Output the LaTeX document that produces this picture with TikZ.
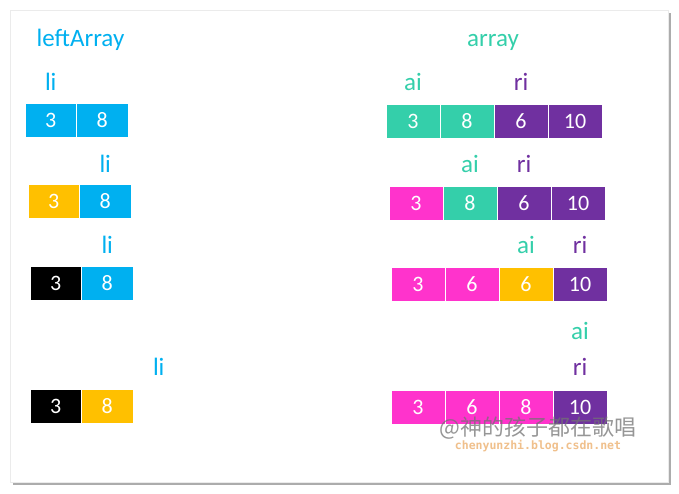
\documentclass[tikz,border=0pt]{standalone}
\usepackage{fontspec}
\setmainfont{Carlito}
\newfontfamily\cjkfont{Noto Sans CJK SC}
\newfontfamily\markfont{DejaVu Sans Mono}
\usetikzlibrary{shadows}

\definecolor{liblue}{HTML}{00B0F0}
\definecolor{aigreen}{HTML}{34CFAA}
\definecolor{ripurple}{HTML}{7030A0}
\definecolor{gold}{HTML}{FFC000}
\definecolor{pinkish}{HTML}{FF33CC}
\definecolor{marktan}{HTML}{F0C08C}

\begin{document}
\begin{tikzpicture}[x=1pt, y=-1pt,
    cell/.style={draw=white, line width=0.6pt, inner sep=0pt,
        minimum height=34pt, text=white, font=\fontsize{22}{26}\selectfont},
    lcell/.style={cell, minimum width=51.5pt},
    rcell/.style={cell, minimum width=54pt},
    lbl/.style={anchor=base, inner sep=0pt, font=\fontsize{25}{29}\selectfont}]
    \useasboundingbox (0, 0) rectangle (679, 493);

    % Paper with shadow
    \fill[white] (0, 0) rectangle (679, 493);
    \filldraw[fill=white, draw=black!8,
        drop shadow={shadow xshift=3pt, shadow yshift=-3pt, opacity=0.65}]
        (10, 10) rectangle (668, 482);

    % Titles
    \node[lbl, text=liblue] (lefttitle) at (80.5, 46) {leftArray};
    \node[lbl, text=aigreen] (righttitle) at (493, 46) {array};

    % leftArray, step 1
    \node[lbl, text=liblue] (li1) at (50.75, 90) {li};
    \node[lcell, fill=liblue] (l1a) at (50.75, 120) {3};
    \node[lcell, fill=liblue] (l1b) at (102.25, 120) {8};

    % leftArray, step 2
    \node[lbl, text=liblue] (li2) at (105.25, 172) {li};
    \node[lcell, fill=gold] (l2a) at (53.75, 201.5) {3};
    \node[lcell, fill=liblue] (l2b) at (105.25, 201.5) {8};

    % leftArray, step 3
    \node[lbl, text=liblue] (li3) at (107.25, 253) {li};
    \node[lcell, fill=black] (l3a) at (55.75, 283.5) {3};
    \node[lcell, fill=liblue] (l3b) at (107.25, 283.5) {8};

    % leftArray, step 4
    \node[lbl, text=liblue] (li4) at (158.75, 375) {li};
    \node[lcell, fill=black] (l4a) at (55.75, 406) {3};
    \node[lcell, fill=gold] (l4b) at (107.25, 406) {8};

    % array, step 1
    \node[lbl, text=aigreen] (ai1) at (413, 90) {ai};
    \node[lbl, text=ripurple] (ri1) at (521, 90) {ri};
    \node[rcell, fill=aigreen] (a1a) at (413, 121) {3};
    \node[rcell, fill=aigreen] (a1b) at (467, 121) {8};
    \node[rcell, fill=ripurple] (a1c) at (521, 121) {6};
    \node[rcell, fill=ripurple] (a1d) at (575, 121) {10};

    % array, step 2
    \node[lbl, text=aigreen] (ai2) at (470, 172) {ai};
    \node[lbl, text=ripurple] (ri2) at (524, 172) {ri};
    \node[rcell, fill=pinkish] (a2a) at (416, 203) {3};
    \node[rcell, fill=aigreen] (a2b) at (470, 203) {8};
    \node[rcell, fill=ripurple] (a2c) at (524, 203) {6};
    \node[rcell, fill=ripurple] (a2d) at (578, 203) {10};

    % array, step 3
    \node[lbl, text=aigreen] (ai3) at (526, 253) {ai};
    \node[lbl, text=ripurple] (ri3) at (580, 253) {ri};
    \node[rcell, fill=pinkish] (a3a) at (418, 284.5) {3};
    \node[rcell, fill=pinkish] (a3b) at (472, 284.5) {6};
    \node[rcell, fill=gold] (a3c) at (526, 284.5) {6};
    \node[rcell, fill=ripurple] (a3d) at (580, 284.5) {10};

    % array, step 4
    \node[lbl, text=aigreen] (ai4) at (580, 339) {ai};
    \node[lbl, text=ripurple] (ri4) at (580, 375) {ri};
    \node[rcell, fill=pinkish] (a4a) at (418, 407) {3};
    \node[rcell, fill=pinkish] (a4b) at (472, 407) {6};
    \node[rcell, fill=pinkish] (a4c) at (526, 407) {8};
    \node[rcell, fill=ripurple] (a4d) at (580, 407) {10};

    % Watermark
    \node[text=black!55, opacity=0.75, font=\cjkfont\fontsize{22}{26}\selectfont]
        (mark) at (538, 428) {@神的孩子都在歌唱};
    \node[text=marktan, font=\markfont\bfseries\fontsize{11.5}{13}\selectfont]
        (site) at (538, 446) {chenyunzhi.blog.csdn.net};
\end{tikzpicture}
\end{document}
